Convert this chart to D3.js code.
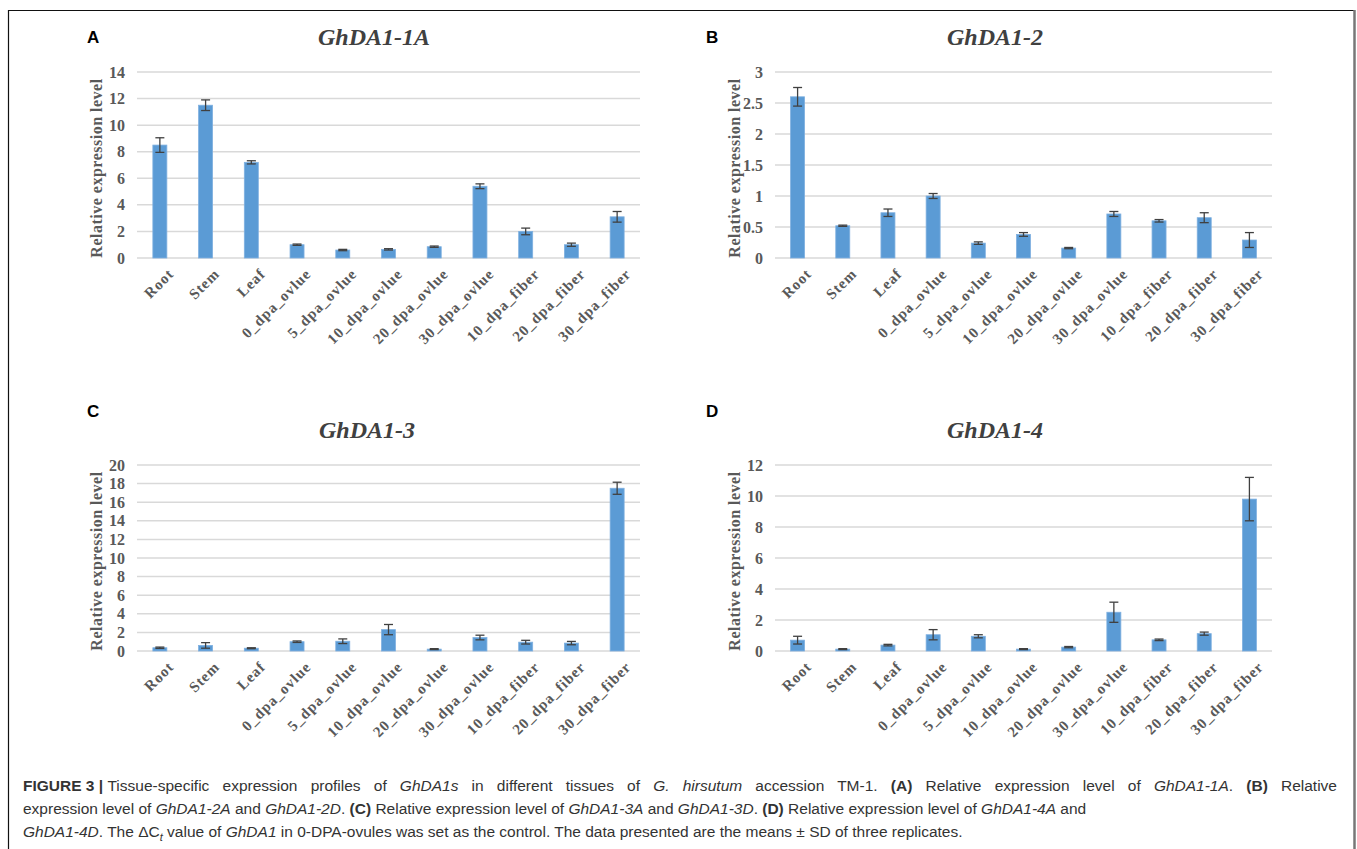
<!DOCTYPE html>
<html>
<head>
<meta charset="utf-8">
<style>
    body { margin: 0; background: #fff; }
    svg { display: block; }
    .tick line { display: none; }
    .domain { display: none; }
    .y .tick text { font-family: 'Liberation Serif', serif; font-weight: bold; font-size: 16px; fill: #595959; }
    .x .tick text { font-family: 'Liberation Serif', serif; font-weight: bold; font-size: 15px; letter-spacing: 0.9px; fill: #595959; }
    .caption { font-family: 'Liberation Sans', Arial, sans-serif; font-size: 15.5px; fill: #333; }
</style>
</head>
<body>
<svg width="1357" height="849"></svg>
<script src="https://d3js.org/d3.v7.min.js"></script>
<script>
    let tissues = ["Root", "Stem", "Leaf", "0_dpa_ovlue", "5_dpa_ovlue", "10_dpa_ovlue", "20_dpa_ovlue", "30_dpa_ovlue", "10_dpa_fiber", "20_dpa_fiber", "30_dpa_fiber"];

    // GhDA1-1A
    let valuesA = [8.5, 11.5, 7.2, 1.0, 0.6, 0.65, 0.85, 5.4, 2.0, 1.0, 3.1];
    let errorsA = [0.55, 0.4, 0.12, 0.05, 0.05, 0.05, 0.05, 0.18, 0.25, 0.12, 0.4];
    let ticksA = [0, 2, 4, 6, 8, 10, 12, 14];

    // GhDA1-2
    let valuesB = [2.6, 0.52, 0.73, 1.0, 0.24, 0.38, 0.16, 0.71, 0.6, 0.65, 0.29];
    let errorsB = [0.15, 0.01, 0.06, 0.04, 0.02, 0.03, 0.01, 0.04, 0.02, 0.08, 0.12];
    let ticksB = [0, 0.5, 1, 1.5, 2, 2.5, 3];

    // GhDA1-3
    let valuesC = [0.35, 0.6, 0.3, 1.0, 1.05, 2.3, 0.2, 1.45, 0.95, 0.85, 17.5];
    let errorsC = [0.07, 0.3, 0.05, 0.08, 0.25, 0.55, 0.05, 0.25, 0.2, 0.18, 0.65];
    let ticksC = [0, 2, 4, 6, 8, 10, 12, 14, 16, 18, 20];

    // GhDA1-4
    let valuesD = [0.7, 0.12, 0.38, 1.05, 0.95, 0.12, 0.25, 2.5, 0.72, 1.12, 9.8];
    let errorsD = [0.25, 0.03, 0.05, 0.33, 0.1, 0.03, 0.04, 0.65, 0.05, 0.1, 1.4];
    let ticksD = [0, 2, 4, 6, 8, 10, 12];

    let svg = d3.select("svg");

    // figure frame
    svg.append("path")
        .attr("d", "M8.5,860 V10.5 H1354.5")
        .attr("fill", "none")
        .attr("stroke", "#111")
        .attr("stroke-width", 1.2);
    svg.append("line")
        .attr("x1", 1354.5).attr("x2", 1354.5)
        .attr("y1", 10).attr("y2", 860)
        .attr("stroke", "#777")
        .attr("stroke-width", 2.5);

    let panels = [
        { letter: "A", title: "GhDA1-1A", values: valuesA, errors: errorsA, ticks: ticksA, left: 137, right: 640, top: 72, bottom: 258, titleX: 374 },
        { letter: "B", title: "GhDA1-2", values: valuesB, errors: errorsB, ticks: ticksB, left: 775, right: 1272, top: 72, bottom: 258, titleX: 995 },
        { letter: "C", title: "GhDA1-3", values: valuesC, errors: errorsC, ticks: ticksC, left: 137, right: 640, top: 465, bottom: 651, titleX: 367 },
        { letter: "D", title: "GhDA1-4", values: valuesD, errors: errorsD, ticks: ticksD, left: 775, right: 1272, top: 465, bottom: 651, titleX: 995 }
    ];

    panels.forEach(p => {
        let g = svg.append("g");
        let upper = p.letter === "A" || p.letter === "B";

        let x = d3.scaleBand()
            .domain(tissues)
            .range([p.left, p.right]);

        let y = d3.scaleLinear()
            .domain([0, d3.max(p.ticks)])
            .range([p.bottom, p.top]);

        // grid
        g.append("g")
            .selectAll("line")
            .data(p.ticks)
            .join("line")
            .attr("x1", p.left)
            .attr("x2", p.right)
            .attr("y1", d => y(d))
            .attr("y2", d => y(d))
            .attr("stroke", "#d9d9d9")
            .attr("stroke-width", 1.5);

        g.append("g")
            .attr("class", "y axis")
            .attr("transform", `translate(${p.left - 2},0)`)
            .call(d3.axisLeft(y).tickValues(p.ticks).tickFormat(d => d).tickSize(0).tickPadding(10));

        g.append("g")
            .attr("class", "x axis")
            .attr("transform", `translate(0,${p.bottom})`)
            .call(d3.axisBottom(x).tickSize(0))
            .selectAll(".tick text")
            .attr("text-anchor", "end")
            .attr("transform", "translate(9,11) rotate(-45)")
            .attr("dy", "0.35em");

        let bw = 14;
        let data = tissues.map((t, i) => ({ t: t, v: p.values[i], e: p.errors[i] }));

        g.append("g")
            .selectAll("rect")
            .data(data)
            .join("rect")
            .attr("x", d => x(d.t) + x.bandwidth() / 2 - bw / 2)
            .attr("width", bw)
            .attr("y", d => y(d.v))
            .attr("height", d => y(0) - y(d.v))
            .attr("fill", "#5b9bd5")
            .attr("stroke", "#7fb0e0")
            .attr("stroke-width", 0.8);

        let err = g.append("g")
            .attr("stroke", "#404040")
            .attr("stroke-width", 1.3)
            .selectAll("g")
            .data(data)
            .join("g");
        err.append("line")
            .attr("x1", d => x(d.t) + x.bandwidth() / 2)
            .attr("x2", d => x(d.t) + x.bandwidth() / 2)
            .attr("y1", d => y(d.v - d.e))
            .attr("y2", d => y(d.v + d.e));
        [-1, 1].forEach(s => {
            err.append("line")
                .attr("x1", d => x(d.t) + x.bandwidth() / 2 - 4.5)
                .attr("x2", d => x(d.t) + x.bandwidth() / 2 + 4.5)
                .attr("y1", d => y(d.v + s * d.e))
                .attr("y2", d => y(d.v + s * d.e));
        });

        // axis title
        g.append("text")
            .attr("transform", `translate(${p.left - 35},${(p.top + p.bottom) / 2 + 3}) rotate(-90)`)
            .attr("text-anchor", "middle")
            .attr("font-family", "'Liberation Serif', serif")
            .attr("font-weight", "bold")
            .attr("font-size", "16px")
            .attr("letter-spacing", "0.5px")
            .attr("fill", "#595959")
            .text("Relative  expression level");

        // chart title
        g.append("text")
            .attr("x", p.titleX)
            .attr("y", upper ? 45 : 438)
            .attr("text-anchor", "middle")
            .attr("font-family", "'Liberation Serif', serif")
            .attr("font-weight", "bold")
            .attr("font-style", "italic")
            .attr("font-size", "24px")
            .attr("fill", "#404040")
            .text(p.title);

        // panel letter
        g.append("text")
            .attr("x", p.left < 500 ? 87 : 706)
            .attr("y", upper ? 43 : 417)
            .attr("font-family", "'Liberation Sans', Arial, sans-serif")
            .attr("font-weight", "bold")
            .attr("font-size", "17px")
            .attr("fill", "#000")
            .text(p.letter);
    });

    // caption
    let caption = [
        [["FIGURE 3 | ", "b"], ["Tissue-specific expression profiles of "], ["GhDA1s", "i"], [" in different tissues of "], ["G. hirsutum", "i"], [" accession TM-1. "], ["(A)", "b"], [" Relative expression level of "], ["GhDA1-1A", "i"], [". "], ["(B)", "b"], [" Relative"]],
        [["expression level of "], ["GhDA1-2A", "i"], [" and "], ["GhDA1-2D", "i"], [". "], ["(C)", "b"], [" Relative expression level of "], ["GhDA1-3A", "i"], [" and "], ["GhDA1-3D", "i"], [". "], ["(D)", "b"], [" Relative expression level of "], ["GhDA1-4A", "i"], [" and"]],
        [["GhDA1-4D", "i"], [". The ΔC"], ["t", "s"], [" value of "], ["GhDA1", "i"], [" in 0-DPA-ovules was set as the control. The data presented are the means ± SD of three replicates."]]
    ];

    caption.forEach((line, li) => {
        let t = svg.append("text")
            .attr("class", "caption")
            .attr("x", 23)
            .attr("y", 791 + li * 23);
        line.forEach((seg, si) => {
            let ts = t.append("tspan").text(seg[0]);
            if (seg[1] === "b") ts.attr("font-weight", "bold");
            if (seg[1] === "i") ts.attr("font-style", "italic");
            if (seg[1] === "s") ts.attr("font-style", "italic").attr("font-size", "11px").attr("dy", "4");
            if (si > 0 && line[si - 1][1] === "s") ts.attr("dy", "-4");
        });
        // first line is justified to the full text width (label kept tight)
        if (li === 0) {
            let w = t.node().getComputedTextLength();
            let spaces = line.slice(1).map(s => s[0]).join("").split(" ").length - 1;
            t.attr("word-spacing", (1314 - w) / spaces + "px");
            t.select("tspan").attr("word-spacing", "0px");
        }
    });
</script>
</body>
</html>
